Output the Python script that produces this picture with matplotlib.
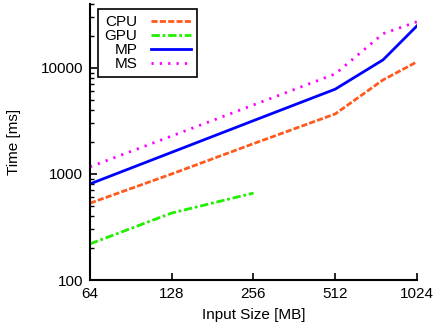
import matplotlib
matplotlib.use("Agg")

import matplotlib.pyplot as plt
from matplotlib.ticker import FixedLocator, LogLocator, NullFormatter

# input sizes in MB and run times in ms
sizes = [64, 128, 256, 512, 768, 1024]
gpu_sizes = [64, 128, 256]
cpu = [530, 1000, 1930, 3680, 7700, 11400]
gpu = [219, 428, 660]
mp = [805, 1600, 3180, 6300, 11900, 24900]
ms = [1165, 2280, 4470, 8770, 21000, 27200]

x_ticks = [64, 128, 256, 512, 1024]
y_ticks = [100, 1000, 10000]

plt.rcParams['font.family'] = ['Liberation Sans', 'DejaVu Sans']
plt.rcParams['font.size'] = 11

fig = plt.figure(figsize=(4.35, 3.28), dpi=100)
ax = fig.add_axes([90 / 435, 48 / 328, 327 / 435, 276 / 328])

ax.plot(sizes, cpu, color="#ff5a1e", lw=2, ls=(0, (2.2, 0.8)), label="CPU")
ax.plot(gpu_sizes, gpu, color="#22ee00", lw=2, ls=(0, (3, 1, 1, 1)), label="GPU")
ax.plot(sizes, mp, color="#0000ff", lw=2, ls="-", label="MP")
ax.plot(sizes, ms, color="#ff00ff", lw=2, ls=(0, (0.8, 2.2)), label="MS")

ax.set_xscale("log", base=2)
ax.set_yscale("log")
ax.set_xlim(64, 1024)
ax.set_ylim(100, 40000)

ax.xaxis.set_major_locator(FixedLocator(x_ticks))
ax.set_xticklabels([str(t) for t in x_ticks])
ax.xaxis.set_minor_locator(FixedLocator([]))
ax.yaxis.set_major_locator(FixedLocator(y_ticks))
ax.set_yticklabels([str(t) for t in y_ticks])
ax.yaxis.set_minor_locator(LogLocator(base=10, subs=range(2, 10)))
ax.yaxis.set_minor_formatter(NullFormatter())

ax.spines["top"].set_visible(False)
ax.spines["right"].set_visible(False)
ax.spines["left"].set_linewidth(1.5)
ax.spines["bottom"].set_linewidth(1.5)
ax.tick_params(which="major", direction="in", length=5, width=1.2, pad=5)
ax.tick_params(which="minor", direction="in", length=3, width=1.0)

ax.set_xlabel("Input Size [MB]", labelpad=5)
ax.set_ylabel("Time [ms]", labelpad=14)

leg = ax.legend(loc="upper left", bbox_to_anchor=(0.025, 0.982), markerfirst=False,
                fancybox=False, edgecolor="black", framealpha=1,
                handlelength=2.6, handletextpad=0.9, labelspacing=0.0,
                borderpad=0.4, borderaxespad=0)
leg.get_frame().set_linewidth(1.2)
# right-align labels against their line samples, gnuplot style
for col in leg._legend_handle_box.get_children():
    col.align = "right"

fig.savefig("out.png", dpi=100)
